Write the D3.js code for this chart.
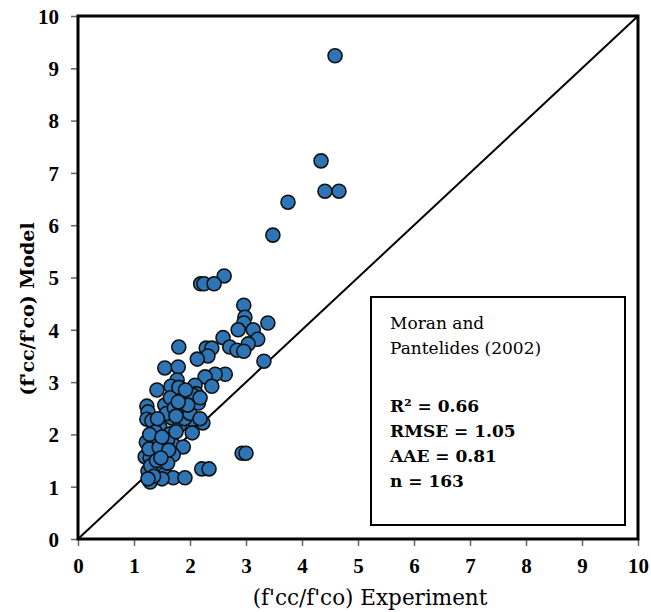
<!DOCTYPE html>
<html>
<head>
<meta charset="utf-8">
<script src="https://cdn.jsdelivr.net/npm/d3@7"></script>
<style>
  body { margin: 0; background: #fff; }
  svg text { font-family: "DejaVu Serif", "Liberation Serif", serif; fill: #000; }
</style>
</head>
<body>
<svg id="chart" width="651" height="612"></svg>
<script>
// experiment values (x) and model values (y)
var expVals = [
  4.59, 4.34, 4.41, 4.66, 3.75, 3.48, 2.61, 2.19, 2.25, 2.43,
  2.96, 2.98, 2.96, 3.39, 2.86, 3.13, 2.59, 3.21, 2.71, 3.04,
  2.84, 2.96, 1.80, 2.29, 2.39, 2.32, 2.13, 3.32, 1.55, 1.79,
  2.63, 2.45, 2.27, 1.77, 1.66, 1.41, 2.09, 2.39, 1.86, 2.11,
  1.23, 1.25, 1.55, 1.96, 1.78, 1.23, 1.32, 1.68, 1.82, 2.04,
  2.23, 1.46, 2.04, 1.64, 1.25, 1.34, 1.52, 1.70, 1.88, 1.20,
  1.29, 1.50, 1.70, 1.43, 1.25, 1.55, 1.29, 1.70, 1.91, 2.21,
  2.34, 2.93, 3.00, 1.22, 1.27, 1.40, 1.45, 1.60, 1.75, 1.85,
  1.90, 1.95, 1.58, 1.38, 1.30, 1.40, 1.60, 1.50, 1.35, 1.25,
  1.65, 2.00, 2.15, 1.72, 1.42, 1.28, 1.50, 1.62, 2.05, 1.80,
  1.92, 1.48, 2.18, 1.75, 1.96, 2.18, 1.79
];
var modelVals = [
  9.24, 7.23, 6.65, 6.65, 6.44, 5.81, 5.03, 4.88, 4.88, 4.88,
  4.47, 4.24, 4.13, 4.13, 4.00, 4.00, 3.85, 3.82, 3.67, 3.73,
  3.61, 3.59, 3.67, 3.65, 3.65, 3.50, 3.44, 3.40, 3.27, 3.29,
  3.15, 3.15, 3.10, 3.04, 2.92, 2.85, 2.94, 2.92, 2.77, 2.78,
  2.54, 2.43, 2.56, 2.54, 2.60, 2.29, 2.26, 2.31, 2.18, 2.28,
  2.22, 2.14, 2.03, 2.01, 1.89, 1.87, 1.84, 1.80, 1.76, 1.57,
  1.55, 1.64, 1.61, 1.38, 1.30, 1.24, 1.09, 1.17, 1.17, 1.34,
  1.34, 1.64, 1.64, 1.85, 1.72, 1.95, 1.75, 1.90, 2.05, 2.45,
  2.30, 2.65, 2.40, 2.05, 1.40, 1.50, 1.45, 1.15, 1.20, 1.15,
  2.70, 2.40, 2.60, 2.50, 2.30, 2.00, 1.95, 1.70, 2.75, 2.90,
  2.85, 1.55, 2.30, 2.35, 2.56, 2.70, 2.62
];
var tickVals = [0, 1, 2, 3, 4, 5, 6, 7, 8, 9, 10];
var boxTitle = ["Moran and", "Pantelides (2002)"];
var boxStats = ["R\u00b2 = 0.66", "RMSE = 1.05", "AAE = 0.81", "n = 163"];

var svg = d3.select("#chart"),
    margin = {top: 16, right: 13, bottom: 73, left: 78},
    width = 651 - margin.left - margin.right,
    height = 612 - margin.top - margin.bottom,
    g = svg.append("g").attr("transform", "translate(" + margin.left + "," + margin.top + ")");

var x = d3.scaleLinear().domain([0, 10]).range([0, width]),
    y = d3.scaleLinear().domain([0, 10]).range([height, 0]);

var points = expVals.map(function(v, i) { return {x: v, y: modelVals[i]}; });

// axes
var xAxis = g.append("g")
    .attr("transform", "translate(0," + height + ")")
    .call(d3.axisBottom(x).tickValues(tickVals).tickSize(7).tickPadding(12).tickFormat(d3.format("d")));
var yAxis = g.append("g")
    .call(d3.axisLeft(y).tickValues(tickVals).tickSize(7).tickPadding(12).tickFormat(d3.format("d")));

[xAxis, yAxis].forEach(function(a) {
  a.select(".domain").remove();
  a.selectAll(".tick line").attr("stroke", "#666").attr("stroke-width", 1.5);
  a.selectAll(".tick text")
    .style("font-size", "21px")
    .style("font-weight", "bold")
    .style("font-family", "'Liberation Serif', serif");
});
yAxis.selectAll(".tick text").attr("dy", "0.35em");

// 1:1 line
g.append("line")
  .attr("x1", x(0)).attr("y1", y(0))
  .attr("x2", x(10)).attr("y2", y(10))
  .attr("stroke", "#000").attr("stroke-width", 2);

// points
g.selectAll(".dot")
  .data(points)
  .enter().append("circle")
    .attr("class", "dot")
    .attr("cx", function(d) { return x(d.x); })
    .attr("cy", function(d) { return y(d.y); })
    .attr("r", 7)
    .attr("fill", "#2E75B6")
    .attr("stroke", "#111")
    .attr("stroke-width", 1.6);

// frame
g.append("rect")
  .attr("x", 0).attr("y", 0)
  .attr("width", width).attr("height", height)
  .attr("fill", "none")
  .attr("stroke", "#000")
  .attr("stroke-width", 3);

// stats box
var bx = 371 - margin.left, by = 297 - margin.top;
g.append("rect")
  .attr("x", bx).attr("y", by)
  .attr("width", 254).attr("height", 228)
  .attr("fill", "#fff")
  .attr("stroke", "#000")
  .attr("stroke-width", 2);

g.selectAll(".boxtitle")
  .data(boxTitle)
  .enter().append("text")
    .attr("x", bx + 19)
    .attr("y", function(d, i) { return by + 32 + i * 25; })
    .style("font-size", "17px")
    .text(function(d) { return d; });

g.selectAll(".boxstat")
  .data(boxStats)
  .enter().append("text")
    .attr("x", bx + 19)
    .attr("y", function(d, i) { return by + 115 + i * 25; })
    .style("font-size", "17px")
    .style("font-weight", "bold")
    .text(function(d) { return d; });

// axis titles
svg.append("text")
  .attr("x", 370)
  .attr("y", 605)
  .attr("text-anchor", "middle")
  .style("font-size", "21.5px")
  .text("(f'cc/f'co) Experiment");

svg.append("text")
  .attr("transform", "translate(34,309) rotate(-90)")
  .attr("text-anchor", "middle")
  .style("font-size", "19px")
  .style("font-weight", "bold")
  .text("(f'cc/f'co) Model");
</script>
</body>
</html>
